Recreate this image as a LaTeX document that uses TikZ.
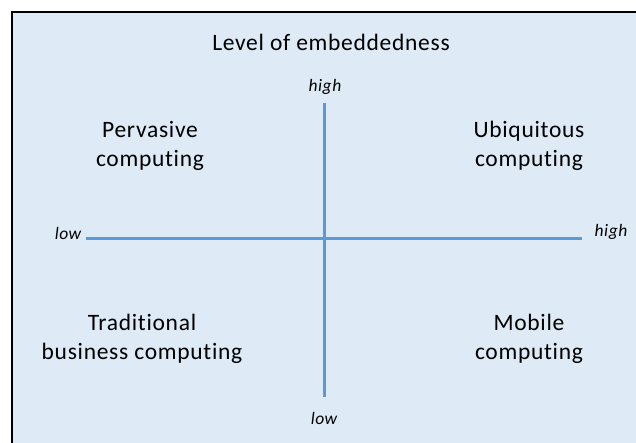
\documentclass[tikz,border=0pt]{standalone}
\usepackage{fontspec}
\setmainfont{Carlito}[LetterSpace=3,Ligatures=NoCommon]
\definecolor{panelbg}{HTML}{DEEAF6}
\definecolor{axisblue}{HTML}{5B9BD5}
\begin{document}
\begin{tikzpicture}[x=1pt,y=-1pt,
  quad/.style={align=center,font=\fontsize{23.5}{29}\selectfont,inner sep=0pt},
  endlabel/.style={font=\fontsize{17.5}{20}\selectfont\itshape,inner sep=0pt},
  axis/.style={draw=axisblue,line width=3pt}]
\useasboundingbox (0,0) rectangle (636,443);
% panel
\fill[panelbg] (12,12) rectangle (640,447);
\draw[line width=2pt] (12,447) -- (12,12) -- (640,12);
% title
\node[quad] (title) at (331,42) {Level of embeddedness};
% axes
\coordinate (vtop) at (324,103);
\coordinate (vbot) at (324,397);
\coordinate (hleft) at (86,239);
\coordinate (hright) at (582,239);
\draw[axis] (hleft) -- (hright);
\draw[axis] (vtop) -- (vbot);
% axis end labels
\node[endlabel] (hiT) at (325,87) {high};
\node[endlabel] (loB) at (324,418) {low};
\node[endlabel] (loL) at (68,233) {low};
\node[endlabel] (hiR) at (611,232) {high};
% quadrants
\node[quad] (perv) at (150,146) {Pervasive\\computing};
\node[quad] (ubiq) at (529,146) {Ubiquitous\\computing};
\node[quad] (trad) at (142,339) {Traditional\\business computing};
\node[quad] (mob) at (529,339) {Mobile\\computing};
\end{tikzpicture}
\end{document}
